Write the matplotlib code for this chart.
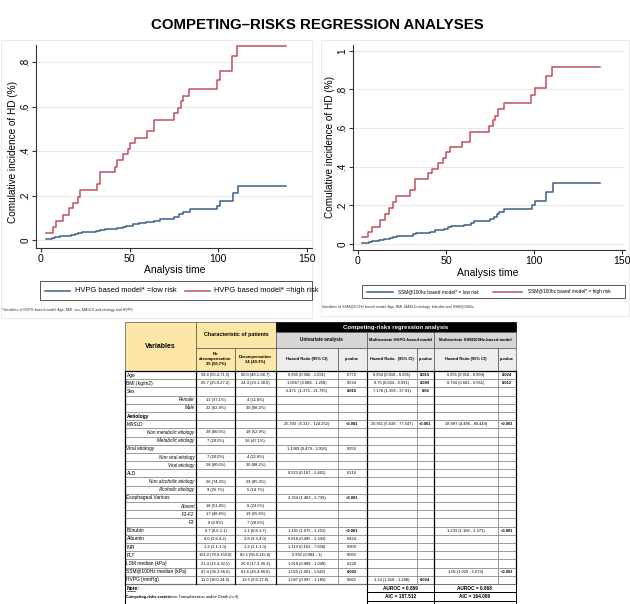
import matplotlib
matplotlib.use("Agg")
import matplotlib.pyplot as plt
from matplotlib.patches import Rectangle

# ---- curve data (step functions) ----
hvpg_low_t = [3, 6, 8, 11, 14, 17, 19, 21, 23, 31, 33, 36, 43, 46, 48, 50, 52, 55, 59, 64, 67, 75, 78, 80, 84, 99, 101, 108, 111, 138]
hvpg_low_y = [0.004, 0.008, 0.013, 0.016, 0.019, 0.023, 0.027, 0.031, 0.035, 0.039, 0.044, 0.048, 0.052, 0.057, 0.061,
              0.065, 0.070, 0.075, 0.080, 0.087, 0.095, 0.105, 0.115, 0.128, 0.140, 0.155, 0.175, 0.210, 0.242, 0.242]
hvpg_high_t = [3, 7, 8.3, 12.6, 16, 18, 21, 22, 31.4, 33.3, 41.7, 43, 46.4, 49.2, 50.2, 53, 59.6, 64, 75.2, 77.4, 79, 80,
               83.6, 99, 101, 107.5, 110.7, 138]
hvpg_high_y = [0.03, 0.06, 0.085, 0.113, 0.143, 0.168, 0.195, 0.225, 0.25, 0.305, 0.33, 0.36, 0.385, 0.41, 0.435, 0.46,
               0.49, 0.54, 0.57, 0.595, 0.625, 0.65, 0.68, 0.72, 0.76, 0.83, 0.875, 0.875]

ssm_low_t = [2, 6, 8, 12, 15, 18, 20, 22, 31, 33, 41, 44, 47, 49, 51, 53, 60, 64, 66, 75, 77, 79, 80, 83, 98.7, 100.6,
             107, 110.6, 137.5]
ssm_low_y = [0.005, 0.01, 0.015, 0.02, 0.025, 0.03, 0.035, 0.042, 0.05, 0.058, 0.063, 0.07, 0.075, 0.08, 0.087, 0.095,
             0.1, 0.11, 0.118, 0.128, 0.14, 0.155, 0.165, 0.18, 0.2, 0.225, 0.27, 0.315, 0.315]
ssm_high_t = [2, 5.9, 7.8, 12.5, 15.3, 17.8, 20, 21.6, 29.5, 32.4, 40, 42, 45.6, 48.5, 50, 52.3, 59, 63.6, 74.6, 76.5,
              77.8, 79.4, 83, 98.3, 100.6, 107, 110, 137.5]
ssm_high_y = [0.035, 0.06, 0.09, 0.125, 0.155, 0.185, 0.215, 0.25, 0.28, 0.335, 0.365, 0.39, 0.42, 0.445, 0.475, 0.50,
              0.53, 0.58, 0.61, 0.64, 0.665, 0.70, 0.73, 0.77, 0.81, 0.87, 0.915, 0.915]

x_ticks = [0, 50, 100, 150]
y_ticks_left = [0, 0.2, 0.4, 0.6, 0.8]
y_ticks_right = [0, 0.2, 0.4, 0.6, 0.8, 1]

# ---- table data ----
var_names = ["Age", "BMI (kg/m2)", "Sex", "Female", "Male", "Aetiology", "MASLD", "Non metabolic etiology",
             "Metabolic etiology", "Viral etiology", "Non viral etiology", "Viral etiology", "ALD",
             "Non alcoholic etiology", "Alcoholic etiology", "Esophageal Varices", "Absent", "F1-F2", "F3",
             "Bilirubin", "Albumin", "INR", "PLT", "LSM median (kPa)", "SSM@100Hz median (kPa)", "HVPG (mmHg)"]
sub_level = [False, False, False, True, True, False, False, True, True, False, True, True, False, True, True,
             False, True, True, True, False, False, False, False, False, False, False]
no_decomp = ["59.4 (50.4-71.5)", "25.7 (25.0-27.2)", "", "13 (37.1%)", "22 (62.9%)", "", "", "28 (80.0%)",
             "7 (20.0%)", "", "7 (20.0%)", "28 (80.0%)", "", "26 (74.3%)", "9 (25.7%)", "", "18 (51.4%)",
             "17 (48.6%)", "0 (0.0%)", "0.7 (0.6-1.1)", "4.0 (3.8-4.2)", "1.2 (1.1-1.3)", "101.0 (70.0-150.0)",
             "23.4 (15.4-32.5)", "47.4 (36.3-56.6)", "11.0 (10.0-14.0)"]
decomp = ["60.0 (49.1-68.7)", "24.4 (23.1-30.0)", "", "4 (11.8%)", "30 (88.2%)", "", "", "18 (52.9%)",
          "16 (47.1%)", "", "4 (11.8%)", "30 (88.2%)", "", "29 (85.3%)", "5 (14.7%)", "", "8 (23.5%)",
          "19 (55.9%)", "7 (20.6%)", "1.1 (0.8-1.7)", "3.8 (3.3-4.0)", "1.2 (1.1-1.3)", "82.5 (58.0-115.0)",
          "26.8 (17.3-36.3)", "61.6 (43.4-80.8)", "13.5 (9.0-17.0)"]
uni_hr = ["0.995 (0.960 - 1.031)", "1.0567 (0.888 - 1.258)", "5.471  (1.373 - 21.795)", "", "", "",
          "25.703  (5.317 - 124.252)", "", "", "1.1369 (0.479 - 3.926)", "", "", "0.523 (0.187 - 1.461)", "", "",
          "2.354 (1.483 - 3.736)", "", "", "", "1.161 (1.075 - 1.253)", "0.816 (0.495 - 1.343)",
          "1.119 (0.163 - 7.658)", "0.992 (0.984 - 1)", "1.018 (0.989 - 1.049)", "1.025 (1.001 - 1.042)",
          "1.087 (0.997 - 1.185)"]
uni_p = ["0.772", "0.534", "0.016", "", "", "", "<0.001", "", "", "0.559", "", "", "0.216", "", "", "<0.001", "",
         "", "", "<0.001", "0.424", "0.909", "0.060", "0.228", "0.002", "0.060"]
hvpg_hr = ["0.954 (0.918 - 0.991)", "0.75 (0.604 - 0.931)", "7.178 (1.359 - 37.91)", "", "", "",
           "20.911 (5.639 - 77.547)", "", "", "", "", "", "", "", "", "", "", "", "", "", "", "", "", "", "",
           "1.14 (1.018 - 1.288)"]
hvpg_p = ["0.015", "0.009", "0.02", "", "", "", "<0.001", "", "", "", "", "", "", "", "", "", "", "", "", "", "",
          "", "", "", "", "0.024"]
ssm_hr = ["0.955 (0.918 - 0.994)", "0.794 (0.663 - 0.951)", "", "", "", "", "18.997 (4.486 - 80.449)", "", "", "",
          "", "", "", "", "", "", "", "", "", "1.233 (1.108 - 1.371)", "", "", "", "", "1.05 (1.029 - 1.073)", ""]
ssm_p = ["0.024", "0.012", "", "", "", "", "<0.001", "", "", "", "", "", "", "", "", "", "", "", "", "<0.001", "",
         "", "", "", "<0.001", ""]
auroc = ["AUROC = 0.869", "AUROC = 0.868"]
aic = ["AIC = 187.512", "AIC = 164.089"]

plt.rcParams["font.family"] = ["Liberation Sans", "DejaVu Sans"]

W, H = 630, 604
BLUE = "#3d6088"
RED = "#c0505e"

fig = plt.figure(figsize=(W / 100, H / 100), dpi=100)


def box(x0, y0, x1, y1):
    return [x0 / W, 1 - y1 / H, (x1 - x0) / W, (y1 - y0) / H]


# background layer for title, frames, legends and the table (pixel coordinates)
bg = fig.add_axes([0, 0, 1, 1])
bg.set_xlim(0, W)
bg.set_ylim(H, 0)
bg.axis("off")

bg.text(317, 25, "COMPETING\u2013RISKS REGRESSION ANALYSES", ha="center", va="center",
        fontsize=10.8, fontweight="bold")
bg.add_patch(Rectangle((1, 40), 311, 278, fill=False, ec="#e6e6e6", lw=0.6))
bg.add_patch(Rectangle((321, 40), 308, 276, fill=False, ec="#e6e6e6", lw=0.6))


def km_panel(rect, xlim, ylim, yticks, low, high, ylab_xy, xlab_xy):
    ax = fig.add_axes(box(*rect))
    ax.step(low[0], low[1], where="post", color=BLUE, lw=1.1)
    ax.step(high[0], high[1], where="post", color=RED, lw=1.1)
    ax.set_xlim(*xlim)
    ax.set_ylim(*ylim)
    ax.set_xticks(x_ticks)
    ax.set_yticks(yticks)
    ax.set_yticklabels(["0" if v == 0 else ("1" if v == 1 else ("%.1f" % v)[1:]) for v in yticks],
                       rotation=90, va="center")
    for s in ["top", "right"]:
        ax.spines[s].set_visible(False)
    for s in ["left", "bottom"]:
        ax.spines[s].set_color("#333333")
        ax.spines[s].set_linewidth(0.8)
    ax.grid(axis="y", color="#eaeaea", lw=0.8)
    ax.set_axisbelow(True)
    ax.tick_params(labelsize=7.6, length=3, width=0.8, color="#333333", pad=1.5)
    ax.tick_params(axis="y", labelsize=7.2, pad=1)
    ax.set_xlabel("Analysis time", fontsize=7.5)
    ax.set_ylabel("Comulative incidence of HD (%)", fontsize=7.2)
    x0, y0, x1, y1 = rect
    ax.xaxis.set_label_coords((xlab_xy[0] - x0) / (x1 - x0), (y1 - xlab_xy[1]) / (y1 - y0))
    ax.xaxis.label.set_va("center")
    ax.yaxis.set_label_coords((ylab_xy[0] - x0) / (x1 - x0), (y1 - ylab_xy[1]) / (y1 - y0))
    ax.yaxis.label.set_va("center")
    return ax


def legend_box(frame, items, fs, foot, foot_xy):
    x0, y0, x1, y1 = frame
    bg.add_patch(Rectangle((x0, y0), x1 - x0, y1 - y0, fill=False, ec="#555555", lw=0.7))
    ym = (y0 + y1) / 2
    for (la, lb, tx, label, color) in items:
        bg.plot([la, lb], [ym, ym], color=color, lw=1.1)
        bg.text(tx, ym, label, ha="left", va="center", fontsize=fs)
    bg.text(foot_xy[0], foot_xy[1], foot, fontsize=2.6, va="center", ha="left", color="#333333")


km_panel((36, 45, 312, 248), (-2.8, 152.8), (-0.036, 0.878), y_ticks_left,
         (hvpg_low_t, hvpg_low_y), (hvpg_high_t, hvpg_high_y), (13, 152), (175, 270))
km_panel((353, 45, 625, 250), (-2.84, 151.7), (-0.031, 1.03), y_ticks_right,
         (ssm_low_t, ssm_low_y), (ssm_high_t, ssm_high_y), (330, 147), (488, 273))

legend_box((40, 281, 312, 300),
           [(45, 70, 75, "HVPG based model* =low risk", BLUE), (185, 210, 214, "HVPG based model* =high risk", RED)],
           5.4, "*Variables of HVPG-based model: Age, BMI, sex, MASLD and etiology and HVPG", (2, 310))
legend_box((362, 285, 625, 298),
           [(367, 393, 398, "SSM@100hz based model* = low risk", BLUE),
            (493, 522, 528, "SSM@100hz based model* = high risk", RED)],
           3.4, "Variables of SSM@100Hz based model: Age, BMI, MASLD etiology, bilirubin and SSM@100hz", (322, 307))

# ---- table ----
cx = [125, 196, 235, 275.7, 337.7, 366.7, 416.7, 434, 498, 515.7]
top, r1, r2, r3 = 322, 332.3, 347.7, 371
rh = (584 - r3) / len(var_names)
YEL = "#fde7a6"
G1 = "#d6d6d6"
G2 = "#ededed"


def cell(x0, x1, y0, y1, color, text="", fs=3.8, weight="bold", tcolor="black", ec="#555555"):
    bg.add_patch(Rectangle((x0, y0), x1 - x0, y1 - y0, fc=color, ec=ec, lw=0.5))
    if text:
        bg.text((x0 + x1) / 2, (y0 + y1) / 2, text, ha="center", va="center", fontsize=fs,
                fontweight=weight, color=tcolor, linespacing=1.35)


cell(cx[0], cx[1], top, r3, YEL, "Variables", fs=5.0)
cell(cx[1], cx[3], top, r2, YEL, "Characteristic of patients", fs=3.9)
cell(cx[1], cx[2], r2, r3, YEL, "No\ndecompensation\n35 (50.7%)", fs=3.0)
cell(cx[2], cx[3], r2, r3, YEL, "Decompensation\n34 (49.3%)", fs=3.0)
cell(cx[3], cx[9], top, r1, "black", "Competing-risks regression analysis", fs=4.3, tcolor="white", ec="black")
cell(cx[3], cx[5], r1, r2, G1, "Univariate analysis", fs=3.3)
cell(cx[5], cx[7], r1, r2, G1, "Multivariate HVPG-based model", fs=3.1)
cell(cx[7], cx[9], r1, r2, G1, "Multivariate SSM100Hz-based model", fs=3.1)
for i, t in enumerate(["Hazard Ratio (95% CI)", "p-value", "Hazard Ratio.  (95% CI)", "p-value",
                       "Hazard Ratio (95% CI)", "p-value"]):
    cell(cx[3 + i], cx[4 + i], r2, r3, G2, t, fs=2.9)

columns = [no_decomp, decomp, uni_hr, uni_p, hvpg_hr, hvpg_p, ssm_hr, ssm_p]
for i, name in enumerate(var_names):
    y0 = r3 + i * rh
    ym = y0 + rh / 2
    bg.plot([cx[0], cx[9]], [y0 + rh, y0 + rh], color="#8a8a8a", lw=0.6)
    if sub_level[i]:
        bg.text(cx[1] - 1.5, ym, name, ha="right", va="center", fontsize=3.3, style="italic")
    else:
        bg.text(cx[0] + 1.5, ym, name, ha="left", va="center", fontsize=3.5,
                fontweight="bold" if name == "Aetiology" else "normal")
    for j, col in enumerate(columns):
        if col[i]:
            bold = (j % 2 == 1 and j >= 3) and (col[i].startswith("<") or float(col[i]) < 0.05)
            bg.text((cx[j + 1] + cx[j + 2]) / 2, ym, col[i], ha="center", va="center", fontsize=2.9,
                    fontweight="bold" if bold else "normal")

# vertical dividers in the body
for k, x in enumerate(cx):
    dark = k in (0, 1, 2, 3, 5, 7, 9)
    bg.plot([x, x], [r3, 584], color="black" if dark else "#8a8a8a", lw=0.9 if dark else 0.6)
bg.plot([cx[0], cx[9]], [r3, r3], color="black", lw=0.9)

# note area and model metrics
bg.add_patch(Rectangle((cx[0], 584), cx[5] - cx[0], 40, fill=False, ec="black", lw=0.8))
bg.text(cx[0] + 1.5, 588.5, "Note:", fontsize=3.6, fontweight="bold", va="center", ha="left")
bg.plot([cx[0] + 1.5, cx[0] + 10], [591.3, 591.3], color="black", lw=0.4)
bg.text(cx[0] + 1.5, 597, "Competing-risks events:", fontsize=2.8, fontweight="bold", va="center", ha="left")
bg.text(cx[0] + 44, 597, "Liver Transplantation and/or Death (n=3)", fontsize=2.8, va="center", ha="left")
for k, rows in enumerate([auroc, aic, ["", ""]]):
    y0 = 584 + k * 8.35
    for m, (a, b) in enumerate([(cx[5], cx[7]), (cx[7], cx[9])]):
        bg.add_patch(Rectangle((a, y0), b - a, 8.35, fill=False, ec="black", lw=0.7))
        if rows[m]:
            bg.text((a + b) / 2, y0 + 4.2, rows[m], ha="center", va="center", fontsize=3.4, fontweight="bold")

fig.savefig("out.png", dpi=100)
